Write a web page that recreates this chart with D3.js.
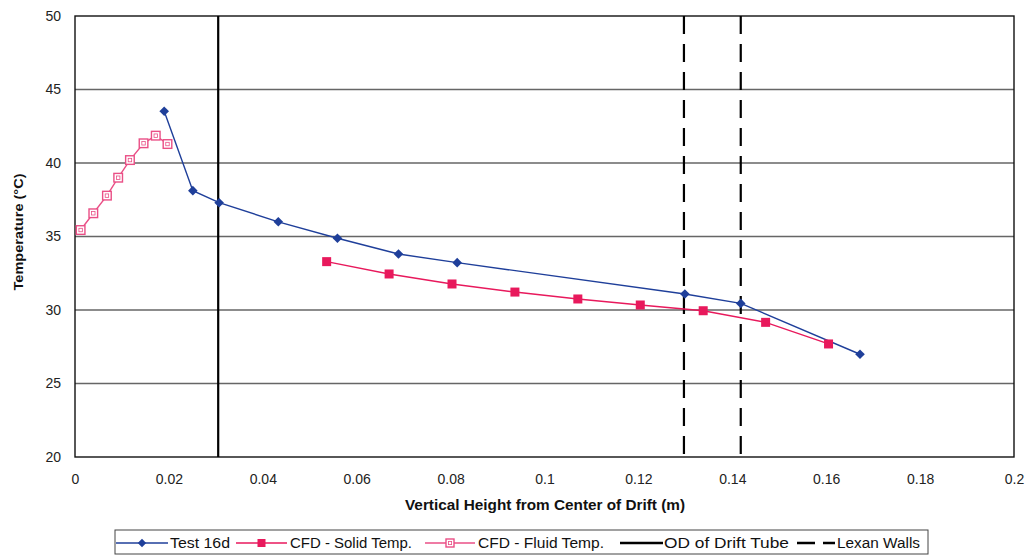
<!DOCTYPE html>
<html>
<head>
<meta charset="utf-8">
<script src="https://cdn.jsdelivr.net/npm/d3@7"></script>
<style>
  body { margin: 0; background: #fff; }
  svg { display: block; font-family: "Liberation Sans", Arial, sans-serif; }
</style>
</head>
<body>
<svg id="chart" width="1028" height="555"></svg>
<script>
// Measured temperatures, Test 16d
const testX = [0.0190, 0.0251, 0.0307, 0.0433, 0.0559, 0.0689, 0.0814, 0.1299, 0.1418, 0.1672];
const testY = [43.52, 38.12, 37.30, 36.00, 34.88, 33.81, 33.22, 31.09, 30.45, 26.99];

// CFD solid temperatures
const solidX = [0.0536, 0.0669, 0.0803, 0.0937, 0.1071, 0.1204, 0.1338, 0.1471, 0.1605];
const solidY = [33.29, 32.45, 31.77, 31.22, 30.75, 30.34, 29.95, 29.16, 27.69];

// CFD fluid temperatures
const fluidX = [0.0012, 0.0039, 0.0068, 0.0092, 0.0117, 0.0146, 0.0172, 0.0197];
const fluidY = [35.44, 36.58, 37.78, 39.00, 40.20, 41.34, 41.86, 41.29];

// Reference positions
const driftTubeOD = 0.0305;
const lexanWalls = [0.1297, 0.1418];

const xTicks = [0, 0.02, 0.04, 0.06, 0.08, 0.1, 0.12, 0.14, 0.16, 0.18, 0.2];
const yTicks = [20, 25, 30, 35, 40, 45, 50];

const legendLabels = ["Test 16d", "CFD - Solid Temp.", "CFD - Fluid Temp.", "OD of Drift Tube", "Lexan Walls"];

const svg = d3.select("#chart");
const margin = { left: 75, right: 1014, top: 16, bottom: 457 };

const x = d3.scaleLinear().domain([0, 0.2]).range([margin.left, margin.right]);
const y = d3.scaleLinear().domain([20, 50]).range([margin.bottom, margin.top]);

const blue = "#1f3f9a";
const red = "#e8195c";
const pink = "#ea4f86";

// horizontal gridlines
svg.append("g").selectAll("line").data(yTicks.filter(t => t > 20 && t < 50)).join("line")
  .attr("x1", margin.left).attr("x2", margin.right)
  .attr("y1", d => y(d)).attr("y2", d => y(d))
  .attr("stroke", "#666").attr("stroke-width", 1.4);

// plot frame
svg.append("rect")
  .attr("x", margin.left).attr("y", margin.top)
  .attr("width", margin.right - margin.left).attr("height", margin.bottom - margin.top)
  .attr("fill", "none").attr("stroke", "#111").attr("stroke-width", 1.4);

// axes (labels only)
const xAxis = svg.append("g").attr("transform", `translate(0,${margin.bottom})`)
  .call(d3.axisBottom(x).tickValues(xTicks).tickSize(0).tickPadding(17).tickFormat(d => d3.format("~g")(d)));
xAxis.select(".domain").remove();
xAxis.selectAll("text").attr("font-size", 14).attr("fill", "#222").attr("font-family", "Liberation Sans, Arial, sans-serif");

const yAxis = svg.append("g").attr("transform", `translate(${margin.left},0)`)
  .call(d3.axisLeft(y).tickValues(yTicks).tickSize(0).tickPadding(14));
yAxis.select(".domain").remove();
yAxis.selectAll("text").attr("font-size", 14).attr("fill", "#222").attr("font-family", "Liberation Sans, Arial, sans-serif");

// axis titles
svg.append("text")
  .attr("x", 545).attr("y", 510)
  .attr("text-anchor", "middle").attr("font-size", 14).attr("font-weight", "bold").attr("fill", "#111")
  .attr("textLength", 280).attr("lengthAdjust", "spacingAndGlyphs")
  .text("Vertical Height from Center of Drift (m)");
svg.append("text")
  .attr("transform", `translate(23,232) rotate(-90)`)
  .attr("text-anchor", "middle").attr("font-size", 13.5).attr("font-weight", "bold").attr("fill", "#111")
  .attr("textLength", 117).attr("lengthAdjust", "spacingAndGlyphs")
  .text("Temperature (°C)");

// reference lines
svg.append("line")
  .attr("x1", x(driftTubeOD)).attr("x2", x(driftTubeOD))
  .attr("y1", margin.top).attr("y2", margin.bottom)
  .attr("stroke", "#000").attr("stroke-width", 2.2);
svg.append("g").selectAll("line").data(lexanWalls).join("line")
  .attr("x1", d => x(d)).attr("x2", d => x(d))
  .attr("y1", margin.top).attr("y2", margin.bottom)
  .attr("stroke", "#000").attr("stroke-width", 2.2)
  .attr("stroke-dasharray", "18,10");

const line = d3.line().x(d => x(d[0])).y(d => y(d[1]));
const zip = (a, b) => a.map((v, i) => [v, b[i]]);

const testData = zip(testX, testY);
const solidData = zip(solidX, solidY);
const fluidData = zip(fluidX, fluidY);

// series lines
svg.append("path").datum(solidData).attr("d", line)
  .attr("fill", "none").attr("stroke", red).attr("stroke-width", 1.4);
svg.append("path").datum(fluidData).attr("d", line)
  .attr("fill", "none").attr("stroke", pink).attr("stroke-width", 1.4);
svg.append("path").datum(testData).attr("d", line)
  .attr("fill", "none").attr("stroke", blue).attr("stroke-width", 1.4);

// markers
const diamond = (g, cx, cy, s) =>
  g.append("path").attr("d", `M${cx},${cy - s}L${cx + s},${cy}L${cx},${cy + s}L${cx - s},${cy}Z`).attr("fill", blue);
const filledSquare = (g, cx, cy, s) =>
  g.append("rect").attr("x", cx - s).attr("y", cy - s).attr("width", 2 * s).attr("height", 2 * s).attr("fill", red);
const openSquare = (g, cx, cy, s) => {
  g.append("rect").attr("x", cx - s).attr("y", cy - s).attr("width", 2 * s).attr("height", 2 * s)
    .attr("fill", "#fff").attr("stroke", pink).attr("stroke-width", 1.4);
  g.append("rect").attr("x", cx - s / 2.5).attr("y", cy - s / 2.5).attr("width", 2 * s / 2.5).attr("height", 2 * s / 2.5)
    .attr("fill", "none").attr("stroke", pink).attr("stroke-width", 0.8);
};

const mk = svg.append("g");
solidData.forEach(d => filledSquare(mk, x(d[0]), y(d[1]), 4.5));
fluidData.forEach(d => openSquare(mk, x(d[0]), y(d[1]), 4.3));
testData.forEach(d => diamond(mk, x(d[0]), y(d[1]), 4.8));

// legend
const lg = svg.append("g");
lg.append("rect").attr("x", 115).attr("y", 530).attr("width", 813).attr("height", 24)
  .attr("fill", "#fff").attr("stroke", "#444").attr("stroke-width", 1);
const legendItems = [
  { x1: 116, x2: 168, tx: 170, w: 60, type: "diamond" },
  { x1: 236, x2: 287, tx: 290, w: 122, type: "solid" },
  { x1: 425, x2: 475, tx: 478, w: 126, type: "fluid" },
  { x1: 620, x2: 663, tx: 664, w: 125, type: "od" },
  { x1: 797, x2: 835, tx: 837, w: 83, type: "lexan" }
];
const ly = 543;
legendItems.forEach((it, i) => {
  const { x1, x2 } = it, cx = (x1 + x2) / 2;
  if (it.type === "diamond") {
    lg.append("line").attr("x1", x1).attr("x2", x2).attr("y1", ly).attr("y2", ly).attr("stroke", blue).attr("stroke-width", 1.4);
    diamond(lg, cx, ly, 4.2);
  } else if (it.type === "solid") {
    lg.append("line").attr("x1", x1).attr("x2", x2).attr("y1", ly).attr("y2", ly).attr("stroke", red).attr("stroke-width", 1.4);
    filledSquare(lg, cx, ly, 4);
  } else if (it.type === "fluid") {
    lg.append("line").attr("x1", x1).attr("x2", x2).attr("y1", ly).attr("y2", ly).attr("stroke", pink).attr("stroke-width", 1.4);
    openSquare(lg, cx, ly, 4);
  } else if (it.type === "od") {
    lg.append("line").attr("x1", x1).attr("x2", x2).attr("y1", ly).attr("y2", ly).attr("stroke", "#000").attr("stroke-width", 2.5);
  } else {
    lg.append("line").attr("x1", x1).attr("x2", x2).attr("y1", ly).attr("y2", ly).attr("stroke", "#000").attr("stroke-width", 2.5)
      .attr("stroke-dasharray", "18,8");
  }
  lg.append("text").attr("x", it.tx).attr("y", ly + 5).attr("font-size", 14).attr("fill", "#111")
    .attr("textLength", it.w).attr("lengthAdjust", "spacingAndGlyphs")
    .text(legendLabels[i]);
});
</script>
</body>
</html>
